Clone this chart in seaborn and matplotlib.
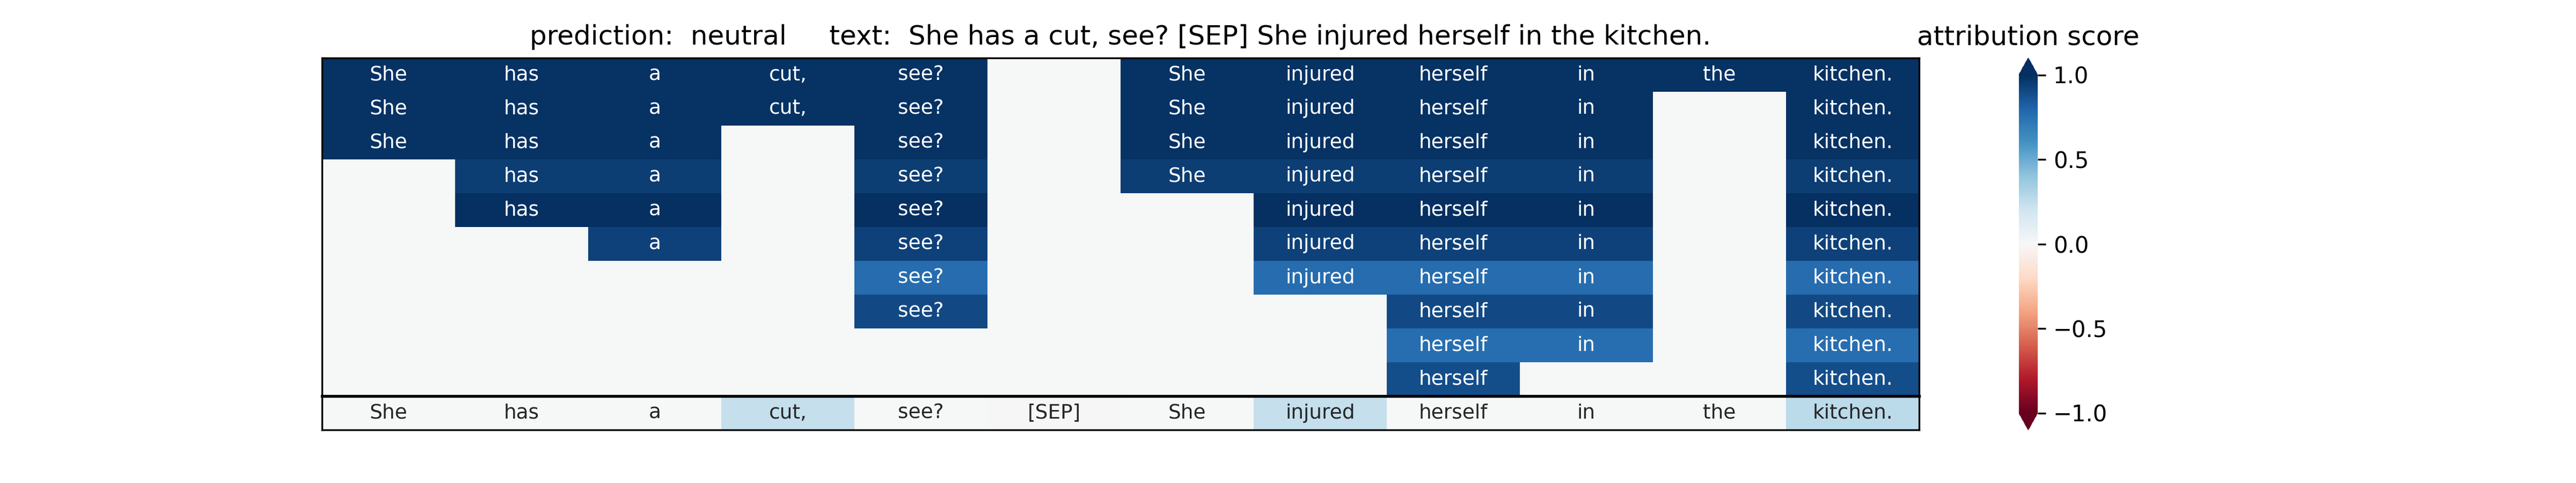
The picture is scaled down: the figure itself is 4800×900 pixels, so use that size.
import numpy as np
import matplotlib.pyplot as plt
import seaborn as sns

# tokens of the input pair
tokens = ["She", "has", "a", "cut,", "see?", "[SEP]", "She", "injured",
          "herself", "in", "the", "kitchen."]

# which tokens survive in each reduction step (1 = kept)
kept = [
    [1, 1, 1, 1, 1, 0, 1, 1, 1, 1, 1, 1],
    [1, 1, 1, 1, 1, 0, 1, 1, 1, 1, 0, 1],
    [1, 1, 1, 0, 1, 0, 1, 1, 1, 1, 0, 1],
    [0, 1, 1, 0, 1, 0, 1, 1, 1, 1, 0, 1],
    [0, 1, 1, 0, 1, 0, 0, 1, 1, 1, 0, 1],
    [0, 0, 1, 0, 1, 0, 0, 1, 1, 1, 0, 1],
    [0, 0, 0, 0, 1, 0, 0, 1, 1, 1, 0, 1],
    [0, 0, 0, 0, 1, 0, 0, 0, 1, 1, 0, 1],
    [0, 0, 0, 0, 0, 0, 0, 0, 1, 1, 0, 1],
    [0, 0, 0, 0, 0, 0, 0, 0, 1, 0, 0, 1],
]

# score of each reduction step
step_scores = [0.99, 0.99, 0.99, 0.95, 1.0, 0.93, 0.77, 0.90, 0.76, 0.89]

# token-level attribution (bottom row)
token_scores = [0.0, 0.0, 0.0, 0.24, 0.0, -0.005, 0.0, 0.24, 0.0, 0.0, 0.0, 0.27]

prediction = "neutral"

kept_arr = np.array(kept)
top_vals = kept_arr * np.array(step_scores)[:, None]
top_labels = np.where(kept_arr == 1, np.array(tokens)[None, :], "")

fig = plt.figure(figsize=(16, 3), dpi=300)
gs = fig.add_gridspec(2, 1, height_ratios=[len(kept), 1], hspace=0)
ax_top = fig.add_subplot(gs[0])
ax_bot = fig.add_subplot(gs[1])

sns.heatmap(top_vals, ax=ax_top, cmap="RdBu", vmin=-1, vmax=1,
            annot=top_labels, fmt="", annot_kws={"size": 9},
            cbar=False, xticklabels=False, yticklabels=False)
sns.heatmap(np.array([token_scores]), ax=ax_bot, cmap="RdBu", vmin=-1, vmax=1,
            annot=np.array([tokens]), fmt="", annot_kws={"size": 9},
            cbar=False, xticklabels=False, yticklabels=False)

for ax in (ax_top, ax_bot):
    for sp in ax.spines.values():
        sp.set_visible(True)
        sp.set_linewidth(0.8)
# heavier line between the steps and the token row
ax_bot.spines["top"].set_linewidth(1.3)

ax_top.set_title("prediction:  " + prediction + "     text:  " + " ".join(tokens))

cbar = fig.colorbar(ax_top.collections[0], ax=[ax_top, ax_bot], extend="both")
cbar.outline.set_linewidth(0)
cbar.ax.set_title("attribution score")

plt.savefig("out.png", dpi=300)
plt.close(fig)
